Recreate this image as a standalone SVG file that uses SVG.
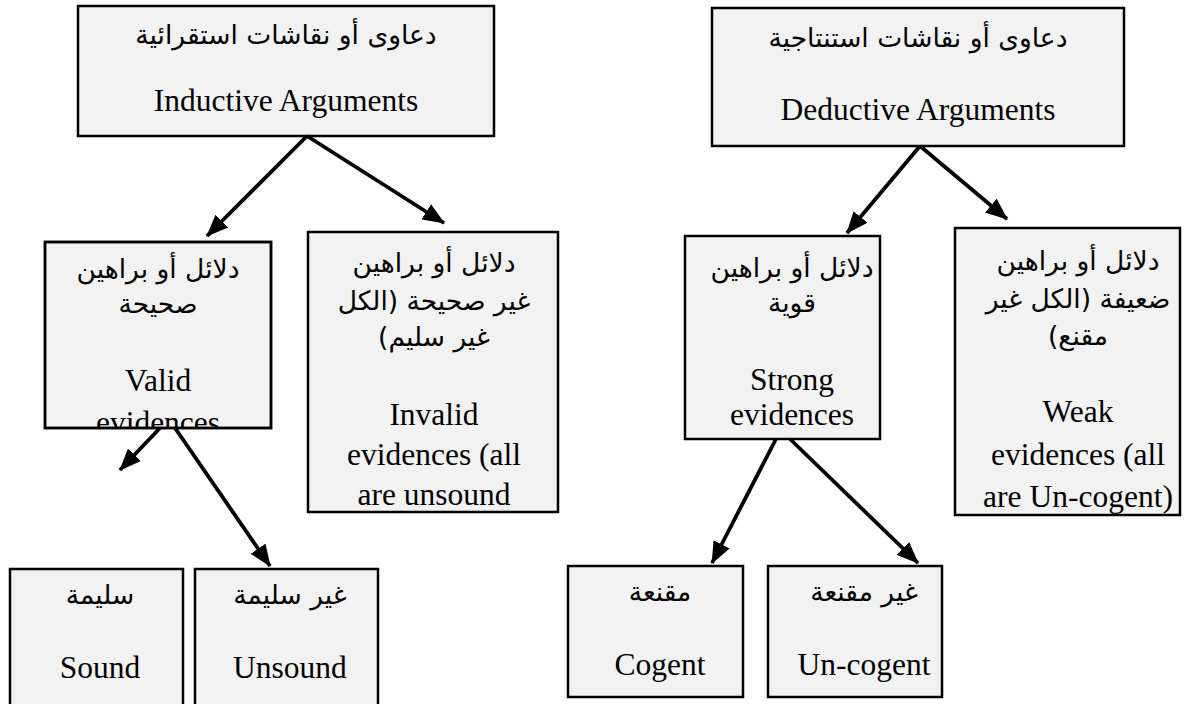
<svg xmlns="http://www.w3.org/2000/svg" width="1199" height="704" viewBox="0 0 1199 704">
<style>
.box{fill:#f2f2f2;stroke:#000;stroke-width:2.5}
.en{font-family:"Liberation Serif","Times New Roman",serif;font-size:31.5px;fill:#000;text-anchor:middle}
.ar{font-family:"DejaVu Sans",sans-serif;font-size:26.5px;fill:#000;text-anchor:middle}
.conn{stroke:#000;stroke-width:3.8;fill:none;marker-end:url(#ah)}
</style>
<defs>
<marker id="ah" markerUnits="userSpaceOnUse" markerWidth="22" markerHeight="18" refX="21" refY="9" orient="auto">
<path d="M0,0 L22,9 L0,18 z" fill="#000"/>
</marker>
<clipPath id="clipValid"><rect x="45" y="242" width="226" height="185"/></clipPath>
</defs>
<rect width="1199" height="704" fill="#fff"/>
<g id="inductive">
<rect class="box" x="78" y="6" width="416" height="130"/>
<text class="ar" x="286" y="44" direction="rtl">دعاوى أو نقاشات استقرائية</text>
<text class="en" x="286" y="111">Inductive Arguments</text>
</g>
<g id="deductive">
<rect class="box" x="712" y="8" width="412" height="138"/>
<text class="ar" x="918" y="47" direction="rtl">دعاوى أو نقاشات استنتاجية</text>
<text class="en" x="918" y="120">Deductive Arguments</text>
</g>
<g id="valid">
<rect class="box" x="45" y="242" width="226" height="186"/>
<g clip-path="url(#clipValid)">
<text class="ar" x="158" y="278" direction="rtl">دلائل أو براهين</text>
<text class="ar" x="158" y="313" direction="rtl">صحيحة</text>
<text class="en" x="158" y="391">Valid</text>
<text class="en" x="158" y="433">evidences</text>
</g>
<rect x="45" y="242" width="226" height="186" fill="none" stroke="#000" stroke-width="2.5"/>
</g>
<g id="invalid">
<rect class="box" x="308" y="232" width="250" height="280"/>
<text class="ar" x="434" y="272" direction="rtl">دلائل أو براهين</text>
<text class="ar" x="434" y="310" direction="rtl">غير صحيحة (الكل</text>
<text class="ar" x="434" y="346" direction="rtl">غير سليم)</text>
<text class="en" x="434" y="425">Invalid</text>
<text class="en" x="434" y="465">evidences (all</text>
<text class="en" x="434" y="505">are unsound</text>
</g>
<g id="strong">
<rect class="box" x="685" y="236" width="195" height="203"/>
<text class="ar" x="792" y="277" direction="rtl">دلائل أو براهين</text>
<text class="ar" x="792" y="312" direction="rtl">قوية</text>
<text class="en" x="792" y="390">Strong</text>
<text class="en" x="792" y="425">evidences</text>
</g>
<g id="weak">
<rect class="box" x="955" y="228" width="225" height="287"/>
<text class="ar" x="1078" y="270" direction="rtl">دلائل أو براهين</text>
<text class="ar" x="1078" y="308" direction="rtl">ضعيفة (الكل غير</text>
<text class="ar" x="1078" y="345" direction="rtl">مقنع)</text>
<text class="en" x="1078" y="422">Weak</text>
<text class="en" x="1078" y="465">evidences (all</text>
<text class="en" x="1078" y="507">are Un-cogent)</text>
</g>
<g id="sound">
<rect class="box" x="10" y="569" width="173" height="145"/>
<text class="ar" x="100" y="604" direction="rtl">سليمة</text>
<text class="en" x="100" y="678">Sound</text>
</g>
<g id="unsound">
<rect class="box" x="195" y="569" width="183" height="145"/>
<text class="ar" x="290" y="604" direction="rtl">غير سليمة</text>
<text class="en" x="290" y="678">Unsound</text>
</g>
<g id="cogent">
<rect class="box" x="568" y="566" width="175" height="131"/>
<text class="ar" x="660" y="601" direction="rtl">مقنعة</text>
<text class="en" x="660" y="675">Cogent</text>
</g>
<g id="uncogent">
<rect class="box" x="768" y="566" width="174" height="131"/>
<text class="ar" x="864" y="601" direction="rtl">غير مقنعة</text>
<text class="en" x="864" y="675">Un-cogent</text>
</g>
<g id="connectors">
<line class="conn" x1="307" y1="136" x2="207" y2="236"/>
<line class="conn" x1="307" y1="136" x2="444" y2="223"/>
<line class="conn" x1="920" y1="146" x2="847" y2="233"/>
<line class="conn" x1="920" y1="146" x2="1007" y2="219"/>
<line class="conn" x1="160" y1="428" x2="120" y2="470"/>
<line class="conn" x1="175" y1="428" x2="270" y2="566"/>
<line class="conn" x1="776" y1="439" x2="712" y2="563"/>
<line class="conn" x1="790" y1="439" x2="918" y2="563"/>
</g>
</svg>
